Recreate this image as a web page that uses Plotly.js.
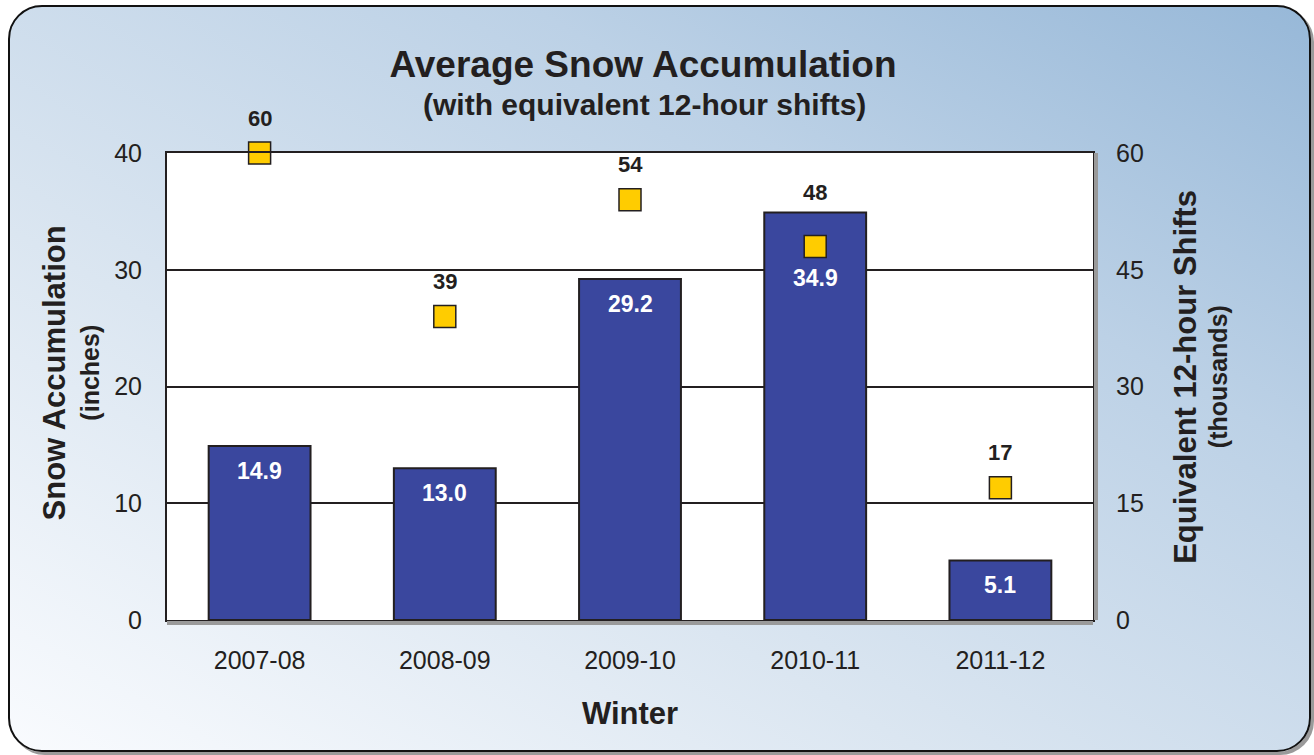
<!DOCTYPE html>
<html>
<head>
<meta charset="utf-8">
<script src="https://cdn.plot.ly/plotly-3.0.1.min.js"></script>
<style>
  html, body { margin: 0; padding: 0; width: 1314px; height: 755px; overflow: hidden; background: #ffffff; }
  #frame {
    position: absolute; left: 8px; top: 5px; width: 1299px; height: 743px;
    border: 2.5px solid #111111; border-radius: 34px;
    background: linear-gradient(to top right, #f9fbfe 0%, #dbe6f1 35%, #bcd1e6 70%, #97b8d8 100%);
    box-shadow: 3px 3px 0 #9a9a9a;
  }
  #chart { position: absolute; left: 0; top: 0; width: 1314px; height: 755px; }
</style>
</head>
<body>
<div id="frame"></div>
<div id="chart"></div>
<script>
// Data
const winters = ['2007-08', '2008-09', '2009-10', '2010-11', '2011-12'];
const snowInches = [14.9, 13.0, 29.2, 34.9, 5.1];
const shiftsThousands = [60, 39, 54, 48, 17];
const leftTicks = [0, 10, 20, 30, 40];
const rightTicks = [0, 15, 30, 45, 60];

const FONT = '"Liberation Sans", Arial, Helvetica, sans-serif';
const INK = '#231f20';

const bars = {
  type: 'bar',
  x: winters,
  y: snowInches,
  yaxis: 'y',
  width: 0.55,
  marker: { color: '#3a479e', line: { color: INK, width: 2 } },
  hoverinfo: 'x+y',
  showlegend: false
};

const shifts = {
  type: 'scatter',
  mode: 'markers',
  x: winters,
  y: shiftsThousands,
  yaxis: 'y2',
  cliponaxis: false,
  marker: { symbol: 'square', size: 22, color: '#ffcc00', line: { color: INK, width: 1.5 } },
  hoverinfo: 'x+y',
  showlegend: false
};

const annotations = [];
winters.forEach((w, i) => {
  const onLeft = shiftsThousands[i] * 40 / 60;
  const inside = onLeft < snowInches[i];
  // bar value labels (white): top of bar, or just below the marker if the marker sits inside the bar
  annotations.push({
    x: w,
    y: inside ? shiftsThousands[i] : snowInches[i],
    xref: 'x', yref: inside ? 'y2' : 'y',
    text: '<b>' + snowInches[i].toFixed(1) + '</b>',
    showarrow: false, yshift: inside ? -32 : -25,
    font: { family: FONT, size: 23, color: '#ffffff' }
  });
  // marker value labels: above marker, or above bar if the marker sits inside the bar
  annotations.push({
    x: w,
    y: inside ? snowInches[i] : shiftsThousands[i],
    xref: 'x', yref: inside ? 'y' : 'y2',
    text: '<b>' + shiftsThousands[i] + '</b>',
    showarrow: false, yshift: inside ? 20 : 35,
    font: { family: FONT, size: 22, color: INK }
  });
});
// subtitle (second title line)
annotations.push({
  xref: 'paper', yref: 'paper', x: (644 - 167) / 926, y: (620 - 104) / 467,
  xanchor: 'center', yanchor: 'middle',
  text: '<b>(with equivalent 12-hour shifts)</b>', showarrow: false,
  font: { family: FONT, size: 30, color: INK }
});
// axis titles
annotations.push({
  xref: 'paper', yref: 'paper', x: -0.121, y: 0.53, xanchor: 'center', yanchor: 'middle',
  text: '<b>Snow Accumulation</b>', textangle: -90, showarrow: false,
  font: { family: FONT, size: 31, color: INK }
});
annotations.push({
  xref: 'paper', yref: 'paper', x: -0.083, y: 0.53, xanchor: 'center', yanchor: 'middle',
  text: '<b>(inches)</b>', textangle: -90, showarrow: false,
  font: { family: FONT, size: 25, color: INK }
});
annotations.push({
  xref: 'paper', yref: 'paper', x: 1.099, y: 0.52, xanchor: 'center', yanchor: 'middle',
  text: '<b>Equivalent 12-hour Shifts</b>', textangle: -90, showarrow: false,
  font: { family: FONT, size: 31, color: INK }
});
annotations.push({
  xref: 'paper', yref: 'paper', x: 1.135, y: 0.52, xanchor: 'center', yanchor: 'middle',
  text: '<b>(thousands)</b>', textangle: -90, showarrow: false,
  font: { family: FONT, size: 25, color: INK }
});
annotations.push({
  xref: 'paper', yref: 'paper', x: 0.5, y: 0, yshift: -93, xanchor: 'center', yanchor: 'middle',
  text: '<b>Winter</b>', showarrow: false,
  font: { family: FONT, size: 31, color: INK }
});

const layout = {
  width: 1314, height: 755,
  margin: { l: 167, r: 221, t: 153, b: 135 },
  paper_bgcolor: 'rgba(0,0,0,0)',
  plot_bgcolor: '#ffffff',
  font: { family: FONT, color: INK },
  title: {
    text: '<b>Average Snow Accumulation</b>',
    font: { family: FONT, size: 37, color: INK },
    x: 643 / 1314, xanchor: 'center', xref: 'container',
    y: 1 - 64 / 755, yanchor: 'middle', yref: 'container'
  },
  xaxis: {
    type: 'category',
    showline: true, mirror: true, linecolor: INK, linewidth: 2,
    ticks: '', tickfont: { family: FONT, size: 25, color: INK },
    ticklabelstandoff: 17,
    showgrid: false, zeroline: false, fixedrange: true
  },
  yaxis: {
    range: [0, 40], tickvals: leftTicks, ticktext: leftTicks.map(String),
    showline: true, mirror: true, linecolor: INK, linewidth: 2,
    ticks: '', tickfont: { family: FONT, size: 25, color: INK },
    ticklabelstandoff: 18,
    showgrid: true, gridcolor: INK, gridwidth: 2, zeroline: false, fixedrange: true
  },
  yaxis2: {
    overlaying: 'y', side: 'right',
    range: [0, 60], tickvals: rightTicks, ticktext: rightTicks.map(String),
    showline: false, ticks: '', tickfont: { family: FONT, size: 25, color: INK },
    ticklabelstandoff: 22,
    showgrid: false, zeroline: false, fixedrange: true
  },
  shapes: [
    // gray shadow edge on the right and bottom of the plot frame
    { type: 'line', xref: 'paper', yref: 'paper', xsizemode: 'pixel', xanchor: 1, x0: 3, x1: 3, y0: 0, y1: 1,
      line: { color: '#9a9a9a', width: 4 } },
    { type: 'line', xref: 'paper', yref: 'paper', ysizemode: 'pixel', yanchor: 0, y0: -3, y1: -3, x0: 0, x1: 1,
      line: { color: '#9a9a9a', width: 4 } }
  ],
  annotations: annotations,
  showlegend: false,
  bargap: 0.45
};

Plotly.newPlot('chart', [bars, shifts], layout, { displayModeBar: false, staticPlot: true });
</script>
</body>
</html>
